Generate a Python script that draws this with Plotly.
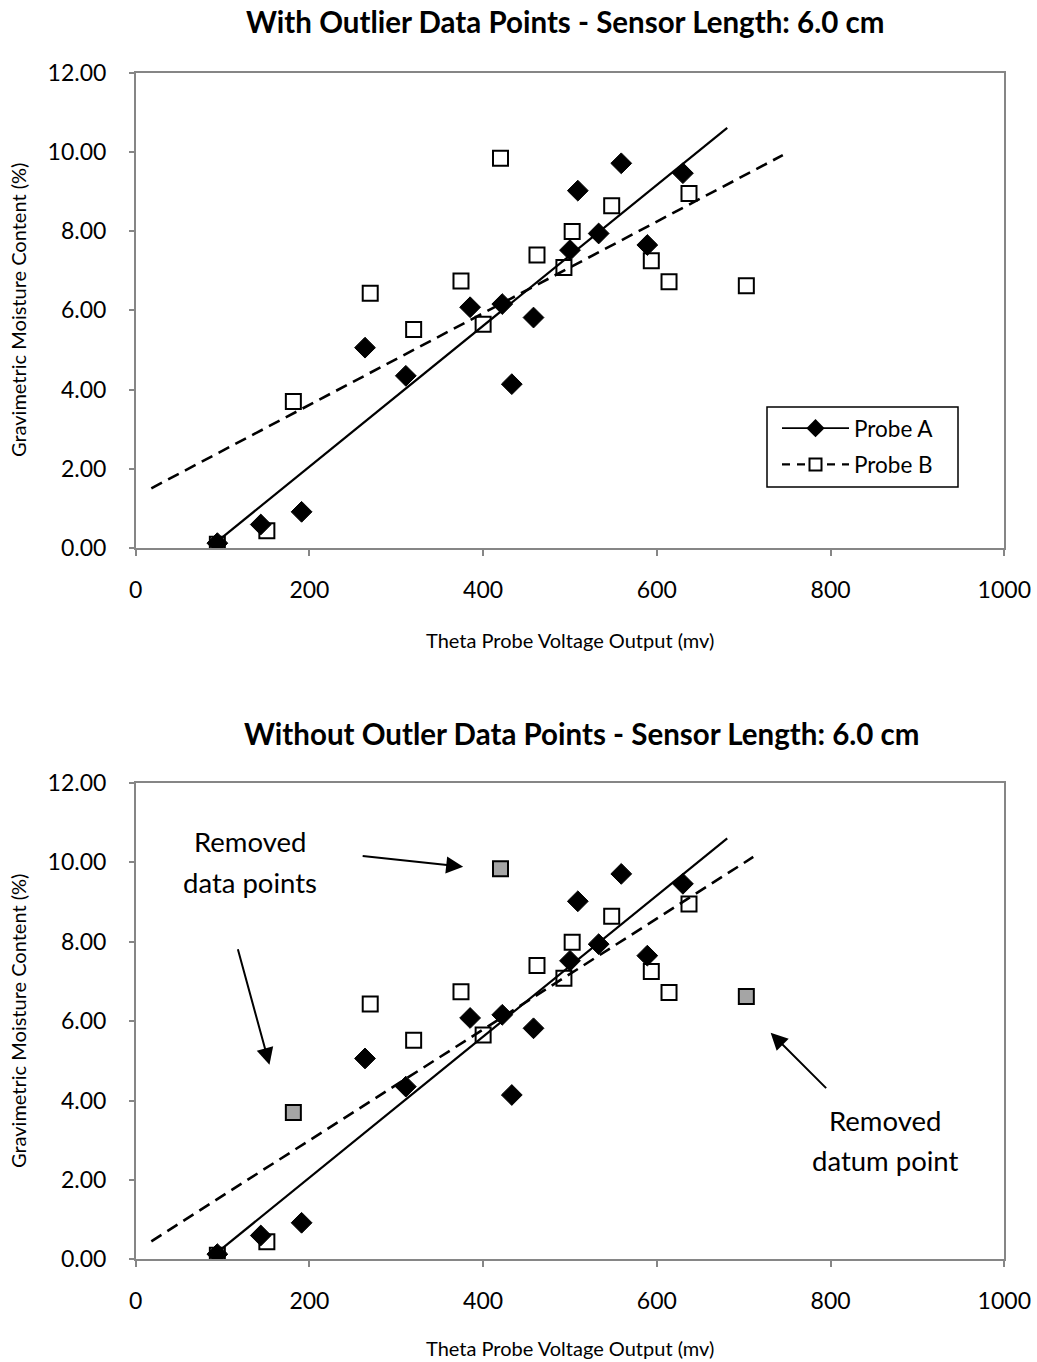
import numpy as np
import plotly.graph_objects as go

# ---------------- data ----------------
probe_a_x = [94, 144, 191, 264, 311, 385, 422, 433, 458, 500, 509, 533, 559, 589, 630]
probe_a_y = [0.13, 0.60, 0.92, 5.06, 4.35, 6.08, 6.16, 4.14, 5.82, 7.52, 9.02, 7.94, 9.71, 7.65, 9.46]

probe_b_x = [94, 151, 181.5, 270, 320, 374.5, 400, 420, 462, 493, 502.5, 548, 593.6, 614, 637, 703]
probe_b_y = [0.10, 0.44, 3.70, 6.43, 5.52, 6.74, 5.65, 9.84, 7.40, 7.08, 7.99, 8.64, 7.25, 6.72, 8.95, 6.62]
probe_b_outlier = [False, False, True, False, False, False, False, True,
                   False, False, False, False, False, False, False, True]

# trendline extents (x) as drawn in the original
trend_a_x = [94, 681]
trend_b_x_with = [18, 745]
trend_b_x_without = [18, 711]

x_ticks = [0, 200, 400, 600, 800, 1000]
y_ticks = [0, 2, 4, 6, 8, 10, 12]

title_top = "With Outlier Data Points - Sensor Length: 6.0 cm"
title_bottom = "Without Outler Data Points - Sensor Length: 6.0 cm"
x_title = "Theta Probe Voltage Output (mv)"
y_title = "Gravimetric Moisture Content (%)"

# ---------------- helpers ----------------
W, H = 1037, 1362
FONT = "Lato, 'Open Sans', sans-serif"


def px_x(p):
    return p / W


def px_y(p):
    return 1 - p / H


def fit_line(xs, ys, xr):
    k, b = np.polyfit(np.array(xs, float), np.array(ys, float), 1)
    xr = np.array(xr, float)
    return xr, k * xr + b


bx_keep = [x for x, o in zip(probe_b_x, probe_b_outlier) if not o]
by_keep = [y for y, o in zip(probe_b_y, probe_b_outlier) if not o]
bx_out = [x for x, o in zip(probe_b_x, probe_b_outlier) if o]
by_out = [y for y, o in zip(probe_b_y, probe_b_outlier) if o]

diamond = dict(symbol="diamond", size=16, color="black", line=dict(color="black", width=1))
square = dict(symbol="square", size=15, color="white", line=dict(color="black", width=2))
square_gray = dict(symbol="square", size=15, color="#a5a5a5", line=dict(color="black", width=2))
solid = dict(color="black", width=2.2)
dashed = dict(color="black", width=2.6, dash="12px,7px")

fig = go.Figure()

# ---- top chart ----
fig.add_trace(go.Scatter(x=probe_b_x, y=probe_b_y, mode="markers", marker=square,
                         showlegend=False, xaxis="x", yaxis="y"))
fig.add_trace(go.Scatter(x=probe_a_x, y=probe_a_y, mode="markers", marker=diamond,
                         showlegend=False, xaxis="x", yaxis="y"))
lx, ly = fit_line(probe_a_x, probe_a_y, trend_a_x)
fig.add_trace(go.Scatter(x=lx, y=ly, mode="lines", line=solid, showlegend=False,
                         xaxis="x", yaxis="y"))
lx, ly = fit_line(probe_b_x, probe_b_y, trend_b_x_with)
fig.add_trace(go.Scatter(x=lx, y=ly, mode="lines", line=dashed, showlegend=False,
                         xaxis="x", yaxis="y"))
# legend entries
fig.add_trace(go.Scatter(x=[None], y=[None], mode="lines+markers", name="Probe A",
                         legendgroup="a",
                         line=dict(color="black", width=1.6),
                         marker=dict(symbol="diamond", size=14, color="black"),
                         xaxis="x", yaxis="y"))
fig.add_trace(go.Scatter(x=[None], y=[None], mode="lines+markers", name="Probe B",
                         legendgroup="b",
                         line=dict(color="black", width=2.4, dash="8px,7px"),
                         marker=dict(symbol="square", size=12, color="white",
                                     line=dict(color="black", width=2)),
                         xaxis="x", yaxis="y"))

# ---- bottom chart ----
fig.add_trace(go.Scatter(x=bx_keep, y=by_keep, mode="markers", marker=square,
                         showlegend=False, xaxis="x2", yaxis="y2"))
fig.add_trace(go.Scatter(x=bx_out, y=by_out, mode="markers", marker=square_gray,
                         showlegend=False, xaxis="x2", yaxis="y2"))
fig.add_trace(go.Scatter(x=probe_a_x, y=probe_a_y, mode="markers", marker=diamond,
                         showlegend=False, xaxis="x2", yaxis="y2"))
lx, ly = fit_line(probe_a_x, probe_a_y, trend_a_x)
fig.add_trace(go.Scatter(x=lx, y=ly, mode="lines", line=solid, showlegend=False,
                         xaxis="x2", yaxis="y2"))
lx, ly = fit_line(bx_keep, by_keep, trend_b_x_without)
fig.add_trace(go.Scatter(x=lx, y=ly, mode="lines", line=dashed, showlegend=False,
                         xaxis="x2", yaxis="y2"))

axis_common = dict(showgrid=False, zeroline=False, showline=True, linecolor="#868686",
                   linewidth=1.5, mirror=True, ticks="outside", tickcolor="#868686",
                   tickwidth=1.5, tickfont=dict(family=FONT, size=23, color="black"))

xdom = [px_x(135.7), px_x(1004.3)]
fig.update_layout(
    width=W, height=H, autosize=False,
    margin=dict(l=0, r=0, t=0, b=0, pad=0, autoexpand=False),
    paper_bgcolor="white", plot_bgcolor="white",
    font=dict(family=FONT, color="black"),
    hovermode=False,
    xaxis=dict(domain=xdom, range=[0, 1000], tickvals=x_ticks, ticklen=6,
               ticklabelstandoff=14, anchor="y", **axis_common),
    yaxis=dict(domain=[px_y(548.3), px_y(72.5)], range=[0, 12], tickvals=y_ticks,
               tickformat=".2f", ticklen=5, ticklabelstandoff=18, anchor="x", **axis_common),
    xaxis2=dict(domain=xdom, range=[0, 1000], tickvals=x_ticks, ticklen=6,
                ticklabelstandoff=14, anchor="y2", **axis_common),
    yaxis2=dict(domain=[px_y(1259.3), px_y(783)], range=[0, 12], tickvals=y_ticks,
                tickformat=".2f", ticklen=5, ticklabelstandoff=18, anchor="x2", **axis_common),
    legend=dict(x=px_x(777), y=px_y(407), xanchor="left", yanchor="top",
                borderwidth=0, bgcolor="rgba(0,0,0,0)",
                font=dict(family=FONT, size=22.5, color="black"),
                itemwidth=67, tracegroupgap=4, traceorder="grouped"),
    shapes=[dict(type="rect", xref="paper", yref="paper",
                 x0=px_x(767), x1=px_x(958), y0=px_y(487), y1=px_y(407),
                 line=dict(color="black", width=1.5), fillcolor="rgba(0,0,0,0)")],
)

ann = []
ctr = dict(xref="paper", yref="paper", showarrow=False, xanchor="center", yanchor="middle")
ann.append(dict(text="<b>" + title_top + "</b>", x=px_x(565), y=px_y(21),
                font=dict(family=FONT, size=29.5, color="black"), **ctr))
ann.append(dict(text="<b>" + title_bottom + "</b>", x=px_x(581), y=px_y(733),
                font=dict(family=FONT, size=29.5, color="black"), **ctr))
for yc in (640, 1348):
    ann.append(dict(text=x_title, x=px_x(570), y=px_y(yc),
                    font=dict(family=FONT, size=20, color="black"), **ctr))
for yc in (310, 1021):
    ann.append(dict(text=y_title, x=px_x(18), y=px_y(yc), textangle=-90,
                    font=dict(family=FONT, size=20, color="black"), **ctr))

# bottom chart callouts (one annotation per line to keep the wide line spacing)
callout_font = dict(family=FONT, size=27.5, color="black")
ann.append(dict(text="Removed", x=px_x(250), y=px_y(841), font=callout_font, **ctr))
ann.append(dict(text="data points", x=px_x(250), y=px_y(882), font=callout_font, **ctr))
ann.append(dict(text="Removed", x=px_x(885), y=px_y(1120), font=callout_font, **ctr))
ann.append(dict(text="datum point", x=px_x(885), y=px_y(1160), font=callout_font, **ctr))
arrow = dict(showarrow=True, arrowhead=2, arrowsize=1.7, arrowwidth=2, arrowcolor="black",
             xref="x2", yref="y2", axref="pixel", ayref="pixel", text="")
ann.append(dict(x=377, y=9.89, ax=-102, ay=-11, **arrow))
ann.append(dict(x=154, y=4.9, ax=-32, ay=-117, **arrow))
ann.append(dict(x=731, y=5.71, ax=57, ay=57, **arrow))

fig.update_layout(annotations=ann)
# the page's default 8px body margin would push the full-window figure off screen
fig.write_html("out.html",
               config={"displayModeBar": False},
               post_script="document.body.style.margin='0px';"
                           "document.body.style.overflow='hidden';")
